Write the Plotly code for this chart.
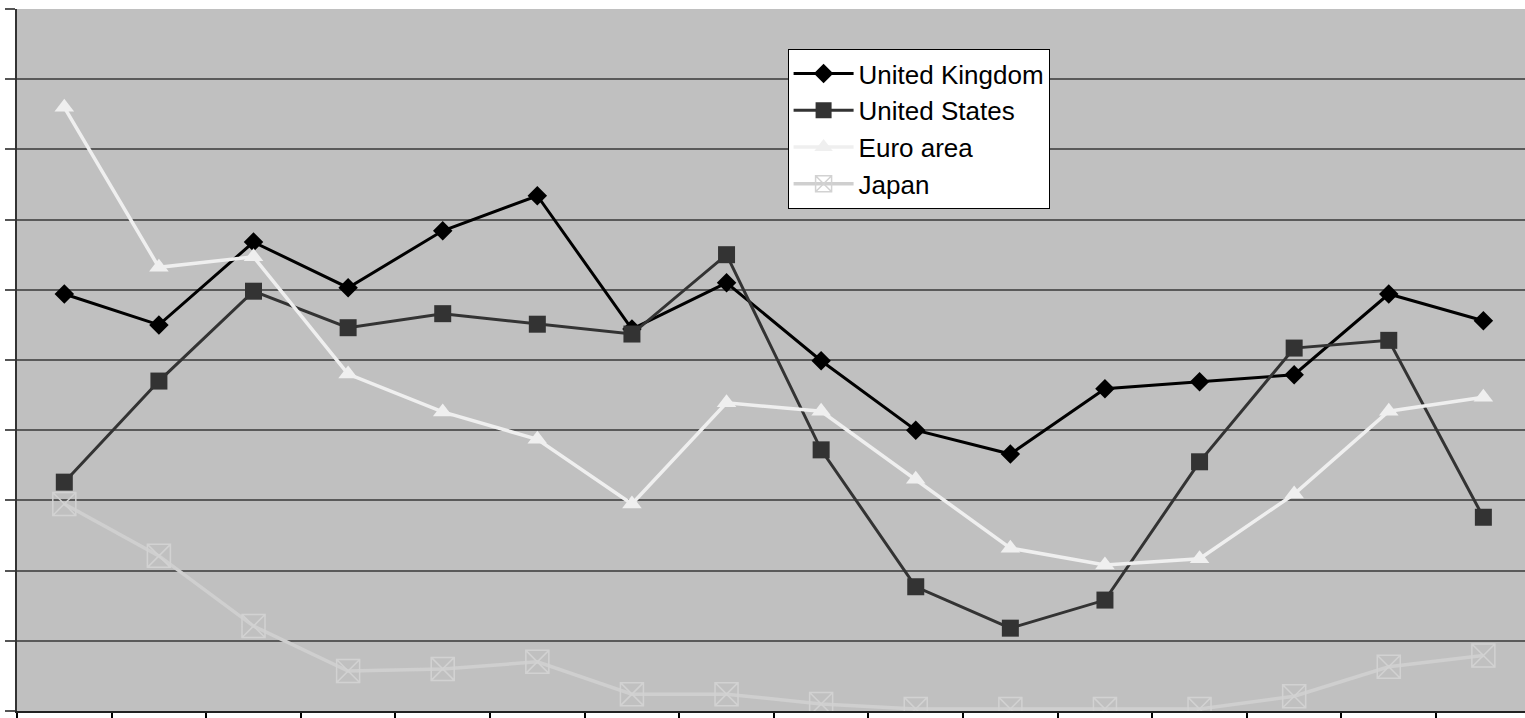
import plotly.graph_objects as go

periods = list(range(16))
uk = [5.94, 5.50, 6.68, 6.03, 6.84, 7.34, 5.44, 6.10, 4.99, 4.00, 3.66, 4.59, 4.69, 4.79, 5.94, 5.56]
us = [3.26, 4.70, 5.98, 5.46, 5.66, 5.51, 5.37, 6.50, 3.72, 1.77, 1.18, 1.58, 3.55, 5.17, 5.28, 2.76]
euro = [8.60, 6.32, 6.47, 4.80, 4.26, 3.87, 2.95, 4.39, 4.27, 3.30, 2.32, 2.08, 2.17, 3.09, 4.27, 4.47]
japan = [2.95, 2.21, 1.21, 0.57, 0.60, 0.70, 0.24, 0.24, 0.10, 0.03, 0.03, 0.03, 0.03, 0.21, 0.63, 0.79]

fig = go.Figure()
fig.add_trace(go.Scatter(x=periods, y=uk, name="United Kingdom", mode="lines+markers",
                         line=dict(color="#000000", width=3),
                         marker=dict(symbol="diamond", size=15, color="#000000")))
fig.add_trace(go.Scatter(x=periods, y=us, name="United States", mode="lines+markers",
                         line=dict(color="#333333", width=3),
                         marker=dict(symbol="square", size=17, color="#333333")))
fig.add_trace(go.Scatter(x=periods, y=euro, name="Euro area", mode="lines+markers",
                         line=dict(color="#efefef", width=3.5),
                         marker=dict(symbol="triangle-up", size=17, color="#efefef")))
fig.add_trace(go.Scatter(x=periods, y=japan, name="Japan", mode="lines+markers",
                         line=dict(color="#cfcfcf", width=3.5),
                         marker=dict(symbol="square-x-open", size=23, color="#d2d2d2",
                                     line=dict(color="#d2d2d2", width=1.5))))

fig.update_layout(
    width=1525, height=718,
    margin=dict(l=17, r=0, t=9, b=7),
    paper_bgcolor="white",
    plot_bgcolor="#c0c0c0",
    font=dict(family="Arial, Liberation Sans, sans-serif", color="#000000"),
    showlegend=True,
    legend=dict(x=0.511, y=0.943, xanchor="left", yanchor="top",
                bgcolor="white", bordercolor="#000000", borderwidth=1,
                font=dict(size=26, color="#000000"), tracegroupgap=0,
                itemwidth=60),
)
fig.update_xaxes(range=[-0.5, 15.44], tickmode="array",
                 tickvals=[k - 0.5 for k in range(17)],
                 ticks="outside", ticklen=6, tickcolor="#000000", tickwidth=1.5,
                 showticklabels=False, showgrid=False, zeroline=False,
                 showline=True, linecolor="#222222", linewidth=2)
fig.update_yaxes(range=[0, 10], dtick=1, tick0=0,
                 ticks="outside", ticklen=10, tickcolor="#555555", tickwidth=1.5,
                 showticklabels=False, showgrid=True, gridcolor="#5a5a5a", gridwidth=1.5,
                 zeroline=False, showline=True, linecolor="#333333", linewidth=2)

fig.write_html("out.html")
